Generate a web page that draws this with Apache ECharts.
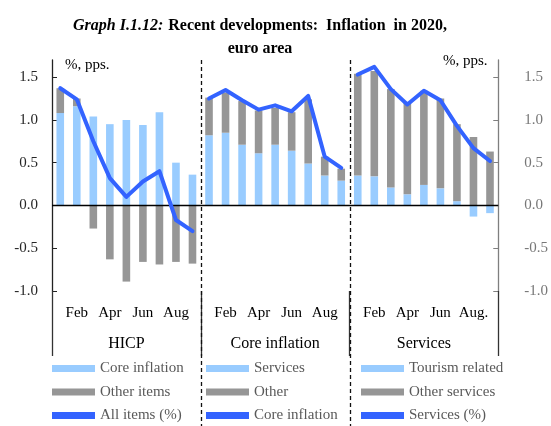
<!DOCTYPE html>
<html>
<head>
<meta charset="utf-8">
<script src="https://cdn.jsdelivr.net/npm/echarts@6/dist/echarts.min.js"></script>
<style>
  html, body { margin: 0; padding: 0; background: #fff; }
  #chart { width: 551px; height: 426px; }
</style>
</head>
<body>
<div id="chart"></div>
<script>
const panels = ["HICP", "Core inflation", "Services"]
const months = ["Jan", "Feb", "Mar", "Apr", "May", "Jun", "Jul", "Aug", "Sep"]
const yTicks = [-1.0, -0.5, 0.0, 0.5, 1.0, 1.5]

// HICP panel
const hicpCore = [1.08, 1.16, 1.04, 0.95, 1.00, 0.94, 1.09, 0.50, 0.36]
const hicpOther = [0.29, 0.09, -0.27, -0.63, -0.89, -0.66, -0.69, -0.66, -0.68]
const hicpAll = [1.37, 1.24, 0.75, 0.32, 0.10, 0.28, 0.40, -0.17, -0.30]
// Core inflation panel
const coreServices = [0.82, 0.85, 0.71, 0.61, 0.71, 0.64, 0.49, 0.35, 0.29]
const coreOther = [0.44, 0.47, 0.51, 0.50, 0.43, 0.45, 0.75, 0.22, 0.14]
const coreAll = [1.25, 1.35, 1.23, 1.12, 1.17, 1.10, 1.28, 0.57, 0.44]
// Services panel
const servTourism = [0.35, 0.34, 0.21, 0.13, 0.24, 0.20, 0.05, -0.13, -0.09]
const servOther = [1.19, 1.23, 1.15, 1.08, 1.10, 1.05, 0.90, 0.80, 0.63]
const servAll = [1.53, 1.62, 1.36, 1.18, 1.34, 1.23, 0.93, 0.67, 0.52]

const LIGHT = "#99CCFF"
const GREY = "#969696"
const BLUE = "#3363FF"
const FONT = "Liberation Serif"

// one long category axis, 9 months per panel
const categories = []
panels.forEach(p => months.forEach(m => categories.push(p + "|" + m)))

function pad(arr, panel) {
  const out = new Array(categories.length).fill("-")
  arr.forEach((v, i) => { out[panel * 9 + i] = v })
  return out
}

const legendNames = {
  hicpCore: "Core inflation", hicpOther: "Other items", hicpAll: "All items (%)",
  coreServices: "Services", coreOther: "Other", coreAll: "Core inflation",
  servTourism: "Tourism related", servOther: "Other services", servAll: "Services (%)"
}

function bar(name, data, panel, color) {
  return {
    name: name, type: "bar", stack: "all", barWidth: "46%",
    data: pad(data, panel), itemStyle: { color: color }
  }
}
function line(name, data, panel) {
  return {
    name: name, type: "line", data: pad(data, panel), showSymbol: false,
    lineStyle: { color: BLUE, width: 4, join: "round", cap: "round" },
    itemStyle: { color: BLUE }, z: 5
  }
}

const series = [
  bar("hicpCore", hicpCore, 0, LIGHT),
  bar("hicpOther", hicpOther, 0, GREY),
  bar("coreServices", coreServices, 1, LIGHT),
  bar("coreOther", coreOther, 1, GREY),
  bar("servTourism", servTourism, 2, LIGHT),
  bar("servOther", servOther, 2, GREY),
  line("hicpAll", hicpAll, 0),
  line("coreAll", coreAll, 1),
  line("servAll", servAll, 2)
]
series[6].markLine = {
  silent: true, symbol: "none", label: { show: false },
  lineStyle: { color: "#000", type: "solid", width: 1.3 },
  data: [{ yAxis: 0 }]
}

function legend(left, names) {
  return {
    orient: "vertical", left: left, top: 360, itemGap: 6.5,
    itemWidth: 43, itemHeight: 7, icon: "rect", padding: 0,
    data: names, selectedMode: false,
    formatter: n => legendNames[n],
    textStyle: { fontFamily: FONT, fontSize: 15, color: "#595959", lineHeight: 17 }
  }
}

function yAxis(position, color, margin) {
  return {
    type: "value", position: position, min: -1.0, max: 1.7,
    axisLine: { show: true, lineStyle: { color: color, width: 1.3 } },
    axisTick: { show: true, inside: true, length: 5, customValues: yTicks, lineStyle: { color: color } },
    axisLabel: {
      customValues: yTicks, margin: margin, formatter: v => v.toFixed(1),
      fontFamily: FONT, fontSize: 15, color: position === "left" ? "#262626" : "#777"
    },
    splitLine: { show: false }
  }
}

const pctLabels = [
  { type: "text", left: 65, top: 58, style: { text: "%, pps.", font: "15px " + FONT, fill: "#000" } },
  { type: "text", left: 443, top: 54, style: { text: "%, pps.", font: "15px " + FONT, fill: "#000" } }
]

const chart = echarts.init(document.getElementById("chart"))
chart.setOption({
  animation: false,
  title: {
    text: "{i|Graph I.1.12:} {b|Recent developments:  Inflation  in 2020,}\n{b|euro area}",
    left: 255, textAlign: "center", top: 9,
    textStyle: {
      rich: {
        i: { fontFamily: FONT, fontStyle: "italic", fontSize: 16, color: "#000", lineHeight: 23 },
        b: { fontFamily: FONT, fontWeight: "bold", fontSize: 16, color: "#000", lineHeight: 23 }
      }
    }
  },
  grid: { left: 52, right: 47, top: 60, bottom: 135 },
  legend: [
    legend(52, ["hicpCore", "hicpOther", "hicpAll"]),
    legend(206, ["coreServices", "coreOther", "coreAll"]),
    legend(361, ["servTourism", "servOther", "servAll"])
  ],
  xAxis: [
    {
      type: "category", data: categories, position: "bottom",
      axisLine: { show: false, onZero: false }, axisTick: { show: false },
      axisLabel: {
        interval: i => i % 9 === 1 || i % 9 === 3 || i % 9 === 5 || i % 9 === 7,
        formatter: v => {
          const m = v.split("|")[1]
          return (v.split("|")[0] === "Services" && m === "Aug") ? "Aug." : m
        },
        margin: 15, fontFamily: FONT, fontSize: 15, color: "#000"
      }
    },
    {
      type: "category", data: panels, position: "bottom",
      axisLine: { show: false, onZero: false },
      axisTick: { show: true, length: 65, lineStyle: { color: "#333", width: 1.3 } },
      axisLabel: { margin: 45, fontFamily: FONT, fontSize: 16, color: "#000" }
    }
  ],
  yAxis: [yAxis("left", "#222", 14), yAxis("right", "#7f7f7f", 26)],
  series: series,
  graphic: pctLabels
})

// dashed separators between panels, running from the plot top to the page bottom
const x0 = chart.convertToPixel({ xAxisIndex: 0 }, 0)
const x1 = chart.convertToPixel({ xAxisIndex: 0 }, 1)
const band = x1 - x0
const seps = [9, 18].map(k => {
  const x = Math.round(chart.convertToPixel({ xAxisIndex: 0 }, k) - band / 2) + 0.5
  return {
    type: "line", z: 10, silent: true,
    shape: { x1: x, y1: 60, x2: x, y2: 426 },
    style: { stroke: "#111", lineWidth: 1.3, lineDash: [4, 3] }
  }
})
chart.setOption({ graphic: pctLabels.concat(seps) })
</script>
</body>
</html>
